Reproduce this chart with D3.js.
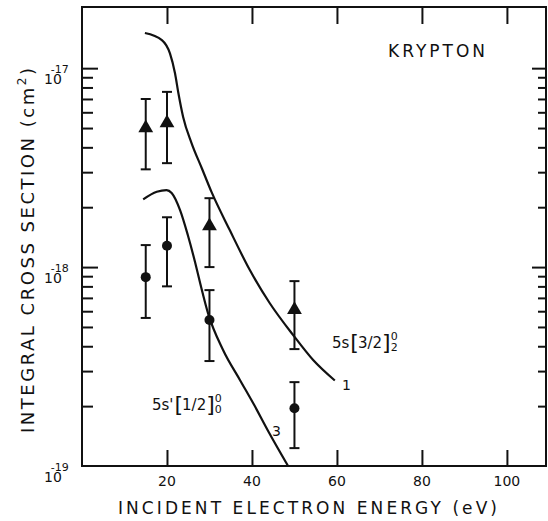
<!DOCTYPE html>
<html>
<head>
<meta charset="utf-8">
<script src="https://cdn.jsdelivr.net/npm/d3@7"></script>
<style>
  body { margin: 0; background: #fff; }
  svg { display: block; }
  text { font-family: "DejaVu Sans", "Liberation Sans", sans-serif; fill: #111; }
</style>
</head>
<body>
<svg id="chart" width="548" height="521"></svg>
<script>
// Axis ticks
const energyTicks = [20, 40, 60, 80, 100];
const decadeTicks = [1e-19, 1e-18, 1e-17];
const decadeExponents = ["-19", "-18", "-17"];

// 5s[3/2]°2 measurements (triangles), cm^2
const triEnergy = [15, 20, 30, 50];
const triValue  = [5.0e-18, 5.3e-18, 1.61e-18, 6.1e-19];
const triUpper  = [7.0e-18, 7.6e-18, 2.22e-18, 8.5e-19];
const triLower  = [3.1e-18, 3.33e-18, 1.0e-18, 3.87e-19];

// 5s'[1/2]°0 measurements (circles), cm^2
const dotEnergy = [15, 20, 30, 50];
const dotValue  = [8.9e-19, 1.28e-18, 5.42e-19, 1.95e-19];
const dotUpper  = [1.29e-18, 1.78e-18, 7.66e-19, 2.64e-19];
const dotLower  = [5.55e-19, 8.0e-19, 3.37e-19, 1.23e-19];

// Theory curve 1 (5s[3/2]°2)
const curve1Energy = [14.8, 18.8, 20.7, 21.9, 22.7, 23.8, 25.8, 28.2, 30.5, 34.8, 39.5, 44.2, 49.7, 54.4, 59.5];
const curve1Value  = [1.503e-17, 1.384e-17, 1.186e-17, 9.40e-18, 7.46e-18, 5.69e-18, 4.19e-18, 3.14e-18,
                      2.38e-18, 1.53e-18, 9.66e-19, 6.58e-19, 4.55e-19, 3.41e-19, 2.69e-19];

// Theory curve 3 (5s'[1/2]°0)
const curve3Energy = [14.4, 17.6, 19.9, 21.1, 23.1, 24.9, 26.6, 27.8, 29.65, 33.2, 37.2, 40.5, 43.8, 48.5];
const curve3Value  = [2.19e-18, 2.39e-18, 2.44e-18, 2.36e-18, 1.93e-18, 1.45e-18, 1.06e-18, 8.32e-19,
                      5.87e-19, 3.83e-19, 2.70e-19, 2.03e-19, 1.50e-19, 1.0e-19];

const ink = "#111";
const svg = d3.select("#chart");
const L = 82, R = 546, T = 7, B = 466;

const x = d3.scaleLinear().domain([0, 109.2]).range([L, R]);
const y = d3.scaleLog().domain([1e-19, 2.03e-17]).range([B, T]);

// minor log ticks 2..9 in each decade
const minorTicks = [];
[1e-19, 1e-18].forEach(d => { for (let k = 2; k <= 9; k++) minorTicks.push(k * d); });

function styleAxis(g) {
  g.select(".domain").remove();
  g.selectAll(".tick line").attr("stroke", ink).attr("stroke-width", 2);
  g.selectAll(".tick text").remove();
}

// Left ticks (inward)
svg.append("g").attr("transform", `translate(${L},0)`)
  .call(d3.axisLeft(y).tickValues(minorTicks).tickSize(-11).tickFormat(""))
  .call(styleAxis);
svg.append("g").attr("transform", `translate(${L},0)`)
  .call(d3.axisLeft(y).tickValues(decadeTicks.slice(1)).tickSize(-16).tickFormat(""))
  .call(styleAxis);

// Right ticks (inward)
svg.append("g").attr("transform", `translate(${R},0)`)
  .call(d3.axisRight(y).tickValues(minorTicks).tickSize(-8).tickFormat(""))
  .call(styleAxis);
svg.append("g").attr("transform", `translate(${R},0)`)
  .call(d3.axisRight(y).tickValues(decadeTicks.slice(1)).tickSize(-14).tickFormat(""))
  .call(styleAxis);

// Bottom and top ticks (inward)
svg.append("g").attr("transform", `translate(0,${B})`)
  .call(d3.axisBottom(x).tickValues(energyTicks).tickSize(-16).tickFormat(""))
  .call(styleAxis);
svg.append("g").attr("transform", `translate(0,${T})`)
  .call(d3.axisTop(x).tickValues(energyTicks).tickSize(-17).tickFormat(""))
  .call(styleAxis);

// Frame
svg.append("rect").attr("x", L).attr("y", T).attr("width", R - L).attr("height", B - T)
  .attr("fill", "none").attr("stroke", ink).attr("stroke-width", 2);

// Energy tick labels
svg.append("g").selectAll("text").data(energyTicks).join("text")
  .attr("x", d => x(d)).attr("y", 486)
  .attr("text-anchor", "middle").attr("font-size", 14)
  .text(d => d);

// Decade labels: 10 with exponent set over the zero
decadeTicks.forEach((d, i) => {
  const yy = y(d);
  const t = svg.append("text").attr("x", 44).attr("y", yy + 16).attr("font-size", 14);
  t.append("tspan").text("10");
  t.append("tspan").attr("dx", -11).attr("dy", -11).attr("font-size", 11).text(decadeExponents[i]);
});

// Axis titles
svg.append("text")
  .attr("x", (118 + 497) / 2).attr("y", 514)
  .attr("text-anchor", "middle").attr("font-size", 17)
  .attr("textLength", 379).attr("lengthAdjust", "spacing")
  .text("INCIDENT ELECTRON ENERGY (eV)");

const yTitle = svg.append("text")
  .attr("transform", `translate(34,${(68 + 433) / 2}) rotate(-90)`)
  .attr("text-anchor", "middle").attr("font-size", 18)
  .attr("textLength", 365).attr("lengthAdjust", "spacing");
yTitle.append("tspan").text("INTEGRAL CROSS SECTION (cm");
yTitle.append("tspan").attr("font-size", 12).attr("dy", -8).text("2");
yTitle.append("tspan").attr("dy", 8).text(")");

// Title
svg.append("text").attr("x", 388).attr("y", 57).attr("font-size", 17)
  .attr("textLength", 97).attr("lengthAdjust", "spacing").text("KRYPTON");

// Theory curves
const line = d3.line().x(d => x(d[0])).y(d => y(d[1])).curve(d3.curveMonotoneX);
svg.append("path").datum(d3.zip(curve1Energy, curve1Value)).attr("d", line)
  .attr("fill", "none").attr("stroke", ink).attr("stroke-width", 2.2);
svg.append("path").datum(d3.zip(curve3Energy, curve3Value)).attr("d", line)
  .attr("fill", "none").attr("stroke", ink).attr("stroke-width", 2.2);

// Error bars
function errorBars(en, lo, hi) {
  const g = svg.append("g").attr("stroke", ink).attr("stroke-width", 2);
  en.forEach((e, i) => {
    const cx = x(e);
    g.append("line").attr("x1", cx).attr("x2", cx).attr("y1", y(lo[i])).attr("y2", y(hi[i]));
    g.append("line").attr("x1", cx - 5).attr("x2", cx + 5).attr("y1", y(lo[i])).attr("y2", y(lo[i]));
    g.append("line").attr("x1", cx - 5).attr("x2", cx + 5).attr("y1", y(hi[i])).attr("y2", y(hi[i]));
  });
}
errorBars(triEnergy, triLower, triUpper);
errorBars(dotEnergy, dotLower, dotUpper);

// Markers
const tri = d3.symbol().type(d3.symbolTriangle).size(95);
svg.append("g").selectAll("path").data(d3.zip(triEnergy, triValue)).join("path")
  .attr("transform", d => `translate(${x(d[0])},${y(d[1])})`)
  .attr("d", tri).attr("fill", ink);
svg.append("g").selectAll("circle").data(d3.zip(dotEnergy, dotValue)).join("circle")
  .attr("cx", d => x(d[0])).attr("cy", d => y(d[1])).attr("r", 5).attr("fill", ink);

// State labels
function stateLabel(x0, base, lead, frac, sup, sub) {
  const g = svg.append("g");
  let cx = x0;
  const a = g.append("text").attr("x", cx).attr("y", base).attr("font-size", 15).text(lead);
  cx += a.node().getComputedTextLength() + 1;
  const b1 = g.append("text").attr("x", cx).attr("y", base + 2).attr("font-size", 22).text("[");
  cx += b1.node().getComputedTextLength() - 1;
  const f = g.append("text").attr("x", cx).attr("y", base).attr("font-size", 15).text(frac);
  cx += f.node().getComputedTextLength();
  const b2 = g.append("text").attr("x", cx).attr("y", base + 2).attr("font-size", 22).text("]");
  cx += b2.node().getComputedTextLength();
  g.append("text").attr("x", cx).attr("y", base - 8).attr("font-size", 11).text(sup);
  g.append("text").attr("x", cx).attr("y", base + 3).attr("font-size", 11).text(sub);
}
stateLabel(332, 348, "5s ", "3/2", "0", "2");
stateLabel(152, 410, "5s'", "1/2", "0", "0");

svg.append("text").attr("x", 342).attr("y", 390).attr("font-size", 14).text("1");
svg.append("text").attr("x", 272).attr("y", 436).attr("font-size", 14).text("3");
</script>
</body>
</html>
